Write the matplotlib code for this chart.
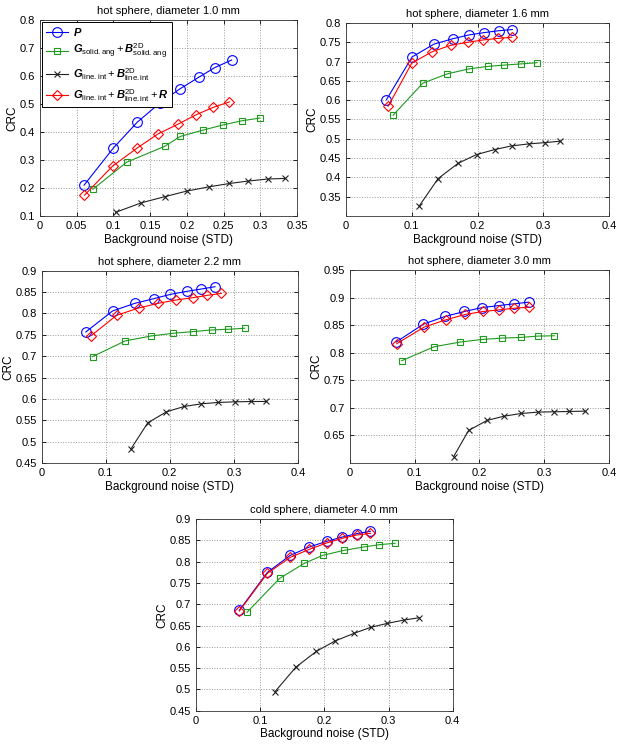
import matplotlib
matplotlib.use("Agg")
import matplotlib.pyplot as plt
from matplotlib.ticker import FuncFormatter
import numpy as np

plt.rcParams['font.family'] = ['Liberation Sans', 'DejaVu Sans']
plt.rcParams['mathtext.fontset'] = 'custom'
plt.rcParams['mathtext.rm'] = 'Liberation Sans'
plt.rcParams['mathtext.it'] = 'Liberation Sans:italic'
plt.rcParams['mathtext.bf'] = 'Liberation Sans:bold:italic'

# ---- data (x = background noise STD, y = CRC) ----
titles = ["hot sphere, diameter 1.0 mm", "hot sphere, diameter 1.6 mm",
          "hot sphere, diameter 2.2 mm", "hot sphere, diameter 3.0 mm",
          "cold sphere, diameter 4.0 mm"]

# panel 1
p1_P_x = [0.060, 0.0997, 0.1325, 0.163, 0.190, 0.216, 0.238, 0.261]
p1_P_y = [0.210, 0.342, 0.435, 0.503, 0.553, 0.595, 0.630, 0.657]
p1_G_x = [0.072, 0.118, 0.170, 0.191, 0.2225, 0.249, 0.275, 0.299]
p1_G_y = [0.1955, 0.292, 0.349, 0.384, 0.407, 0.425, 0.440, 0.4495]
p1_L_x = [0.103, 0.138, 0.170, 0.200, 0.230, 0.258, 0.283, 0.310, 0.333]
p1_L_y = [0.113, 0.147, 0.169, 0.189, 0.204, 0.216, 0.2245, 0.232, 0.234]
p1_R_x = [0.0605, 0.0988, 0.1325, 0.1607, 0.188, 0.213, 0.236, 0.258]
p1_R_y = [0.174, 0.278, 0.343, 0.393, 0.428, 0.462, 0.488, 0.5075]

# panel 2
p2_P_x = [0.0614, 0.1005, 0.1335, 0.162, 0.187, 0.210, 0.2325, 0.253]
p2_P_y = [0.601, 0.712, 0.745, 0.759, 0.769, 0.775, 0.780, 0.783]
p2_G_x = [0.0716, 0.1168, 0.1538, 0.1868, 0.2157, 0.241, 0.2665, 0.290]
p2_G_y = [0.561, 0.644, 0.668, 0.681, 0.6875, 0.691, 0.694, 0.697]
p2_L_x = [0.1117, 0.140, 0.1706, 0.1985, 0.2259, 0.2518, 0.278, 0.302, 0.326]
p2_L_y = [0.3267, 0.3967, 0.4366, 0.459, 0.472, 0.4815, 0.4867, 0.490, 0.4937]
p2_R_x = [0.064, 0.100, 0.1315, 0.159, 0.185, 0.2085, 0.231, 0.252]
p2_R_y = [0.584, 0.696, 0.726, 0.742, 0.750, 0.756, 0.760, 0.763]

# panel 3
p3_P_x = [0.069, 0.1106, 0.1455, 0.175, 0.201, 0.2265, 0.2494, 0.2706]
p3_P_y = [0.7567, 0.8058, 0.8237, 0.8346, 0.8447, 0.8517, 0.8572, 0.8626]
p3_G_x = [0.0795, 0.1304, 0.1714, 0.2052, 0.2364, 0.266, 0.2914, 0.3169]
p3_G_y = [0.699, 0.7357, 0.7474, 0.7536, 0.7575, 0.7614, 0.763, 0.7653]
p3_L_x = [0.1392, 0.1657, 0.1948, 0.2223, 0.2494, 0.2753, 0.3013, 0.3273, 0.3506]
p3_L_y = [0.4826, 0.5441, 0.5698, 0.5822, 0.5885, 0.5916, 0.5931, 0.5939, 0.5939]
p3_R_x = [0.0774, 0.1169, 0.1517, 0.1818, 0.2099, 0.2358, 0.2587, 0.2805]
p3_R_y = [0.7481, 0.7956, 0.8128, 0.8237, 0.8315, 0.8369, 0.8424, 0.847]

# panel 4
p4_P_x = [0.0712, 0.1135, 0.1466, 0.1765, 0.2044, 0.2302, 0.2529, 0.2761]
p4_P_y = [0.8193, 0.8518, 0.8657, 0.8747, 0.8819, 0.8855, 0.8886, 0.8916]
p4_G_x = [0.080, 0.130, 0.1703, 0.2049, 0.2354, 0.2637, 0.2906, 0.3154]
p4_G_y = [0.7855, 0.8108, 0.8193, 0.8241, 0.8265, 0.8277, 0.8301, 0.8307]
p4_L_x = [0.160, 0.1832, 0.2116, 0.2379, 0.2648, 0.2901, 0.3148, 0.3386, 0.3628]
p4_L_y = [0.6114, 0.659, 0.6771, 0.6849, 0.6898, 0.6922, 0.6928, 0.6934, 0.694]
p4_R_x = [0.0722, 0.1145, 0.148, 0.1776, 0.2054, 0.2307, 0.2539, 0.2771]
p4_R_y = [0.8163, 0.8464, 0.8596, 0.8693, 0.8747, 0.8777, 0.8807, 0.8825]

# panel 5
p5_P_x = [0.0675, 0.1112, 0.147, 0.1766, 0.2036, 0.228, 0.2504, 0.2717]
p5_P_y = [0.6856, 0.7748, 0.8147, 0.8343, 0.8476, 0.8577, 0.8656, 0.871]
p5_G_x = [0.0795, 0.1304, 0.1688, 0.1974, 0.2306, 0.2613, 0.2857, 0.3101]
p5_G_y = [0.6809, 0.7607, 0.7959, 0.8147, 0.8264, 0.8343, 0.8397, 0.8429]
p5_L_x = [0.1231, 0.1553, 0.1875, 0.2166, 0.2462, 0.2722, 0.2982, 0.3242, 0.348]
p5_L_y = [0.4946, 0.5518, 0.5893, 0.6136, 0.6316, 0.6457, 0.655, 0.6629, 0.6683]
p5_R_x = [0.0675, 0.1112, 0.147, 0.1766, 0.2036, 0.228, 0.2504, 0.2717]
p5_R_y = [0.684, 0.7724, 0.810, 0.8288, 0.8437, 0.8546, 0.8624, 0.8663]

panels = [
    (p1_P_x, p1_P_y, p1_G_x, p1_G_y, p1_L_x, p1_L_y, p1_R_x, p1_R_y),
    (p2_P_x, p2_P_y, p2_G_x, p2_G_y, p2_L_x, p2_L_y, p2_R_x, p2_R_y),
    (p3_P_x, p3_P_y, p3_G_x, p3_G_y, p3_L_x, p3_L_y, p3_R_x, p3_R_y),
    (p4_P_x, p4_P_y, p4_G_x, p4_G_y, p4_L_x, p4_L_y, p4_R_x, p4_R_y),
    (p5_P_x, p5_P_y, p5_G_x, p5_G_y, p5_L_x, p5_L_y, p5_R_x, p5_R_y),
]

legend_labels = [
    r'$\mathbf{P}$',
    r'$\mathbf{G}_{\mathrm{solid.ang}}+\mathbf{B}^{\mathrm{2D}}_{\mathrm{solid.ang}}$',
    r'$\mathbf{G}_{\mathrm{line.int}}+\mathbf{B}^{\mathrm{2D}}_{\mathrm{line.int}}$',
    r'$\mathbf{G}_{\mathrm{line.int}}+\mathbf{B}^{\mathrm{2D}}_{\mathrm{line.int}}+\mathbf{R}$',
]

# axes rectangles [left, bottom, width, height] in figure fractions
rects = [
    [0.0643, 0.7105, 0.4132, 0.2627],
    [0.5563, 0.7105, 0.4228, 0.2587],
    [0.0670, 0.3794, 0.4120, 0.2577],
    [0.5627, 0.3794, 0.4164, 0.2587],
    [0.3151, 0.0473, 0.4127, 0.2570],
]
xlims = [(0, 0.35), (0, 0.4), (0, 0.4), (0, 0.4), (0, 0.4)]
xsteps = [0.05, 0.1, 0.1, 0.1, 0.1]
ylims = [(0.1, 0.8), (0.3, 0.8), (0.45, 0.9), (0.6, 0.95), (0.45, 0.9)]
yticks_list = [np.arange(0.1, 0.801, 0.1), np.arange(0.35, 0.801, 0.05),
               np.arange(0.45, 0.901, 0.05), np.arange(0.65, 0.951, 0.05),
               np.arange(0.45, 0.901, 0.05)]

fig = plt.figure(figsize=(6.22, 7.46), dpi=100)
fmt = FuncFormatter(lambda v, pos: '%g' % round(v, 4))

for i, d in enumerate(panels):
    ax = fig.add_axes(rects[i])
    Px, Py, Gx, Gy, Lx, Ly, Rx, Ry = d
    ax.plot(Px, Py, '-o', color='blue', mfc='none', ms=7, lw=0.8, mew=0.8, label=legend_labels[0])
    ax.plot(Gx, Gy, '-s', color='#1f9a1f', mfc='none', ms=5, lw=0.8, mew=0.8, label=legend_labels[1])
    ax.plot(Lx, Ly, '-x', color='#222222', ms=5, lw=0.8, mew=0.8, label=legend_labels[2])
    ax.plot(Rx, Ry, '-D', color='red', mfc='none', ms=5.5, lw=0.8, mew=0.8, label=legend_labels[3])
    ax.set_xlim(*xlims[i])
    ax.set_ylim(*ylims[i])
    ax.set_xticks(np.arange(xlims[i][0], xlims[i][1] + 1e-9, xsteps[i]))
    ax.set_yticks(yticks_list[i])
    ax.xaxis.set_major_formatter(fmt)
    ax.yaxis.set_major_formatter(fmt)
    ax.grid(True, linestyle=':', color='#999999', lw=0.7)
    ax.tick_params(direction='in', top=True, right=True, labelsize=8, length=3, width=0.6)
    for s in ax.spines.values():
        s.set_linewidth(0.6)
        s.set_color('#333333')
    ax.set_title(titles[i], fontsize=8, pad=4)
    ax.set_xlabel('Background noise (STD)', fontsize=8.5, labelpad=2)
    ax.set_ylabel('CRC', fontsize=8.5, labelpad=1)
    if i == 0:
        leg = ax.legend(loc='upper left', fontsize=8, fancybox=False, framealpha=1,
                        edgecolor='black', borderaxespad=0.2, handlelength=2.0,
                        handletextpad=0.5, labelspacing=0.4, borderpad=0.3)
        leg.get_frame().set_linewidth(0.7)

fig.savefig('out.png', dpi=100)
